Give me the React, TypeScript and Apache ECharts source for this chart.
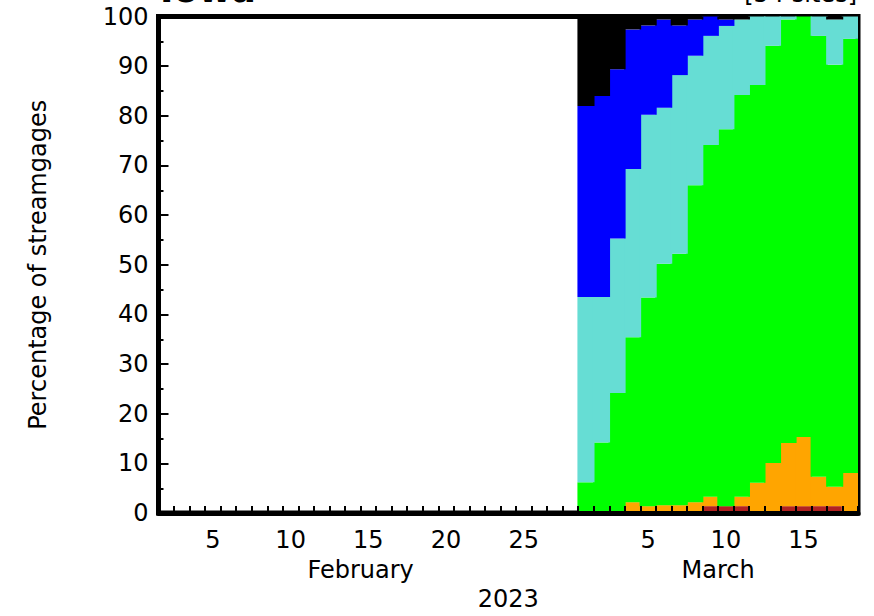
import React, { useEffect, useRef } from "react";
import * as echarts from "echarts";

// Categories: days shown on the x axis (Feb 2 .. Mar 18, 2023)
const febDays = [2, 3, 4, 5, 6, 7, 8, 9, 10, 11, 12, 13, 14, 15, 16, 17, 18, 19, 20, 21, 22, 23, 24, 25, 26, 27, 28];
const marDays = [1, 2, 3, 4, 5, 6, 7, 8, 9, 10, 11, 12, 13, 14, 15, 16, 17, 18];
const febLabelDays = [5, 10, 15, 20, 25];
const marLabelDays = [5, 10, 15];
const monthLabels = [
  { text: "February", startsAt: "Feb 15" },
  { text: "March", startsAt: "Mar 10" },
];
const yearLabel = "2023";
const titleText = "Iowa";
const sitesText = "[54 sites]";
const yAxisName = "Percentage of streamgages";

// Percentage of streamgages per class, March 1..18 (stack order bottom -> top)
const darkRed = [0, 0, 0, 0, 0, 0, 0, 0, 1.4, 1.4, 1.4, 0, 0, 1.4, 1.4, 1.4, 1.4, 0];
const orange = [0, 0, 0, 2.2, 1.4, 1.6, 1.6, 2.2, 1.9, 0, 1.9, 6.1, 10.1, 12.7, 13.9, 5.9, 3.9, 8.1];
const green = [6.2, 14.2, 24.2, 33.2, 42.0, 48.6, 50.6, 63.8, 70.8, 75.9, 80.9, 80.1, 84.0, 85.3, 84.7, 88.8, 85.0, 87.4];
const turquoise = [37.3, 29.3, 31.1, 33.9, 36.8, 31.4, 36.0, 26.1, 22.0, 20.8, 15.2, 13.8, 5.9, 0.6, 0, 3.9, 9.1, 4.5];
const blue = [38.5, 40.5, 34.1, 28.1, 18.0, 17.8, 10.0, 7.3, 3.9, 1.3, 0, 0, 0, 0, 0, 0, 0, 0];
const black = [18.0, 16.0, 10.6, 2.6, 1.8, 0.6, 1.8, 0.6, 0, 0.6, 0.6, 0, 0, 0, 0, 0, 0.6, 0];

const layers = [
  { name: "dark red", values: darkRed, color: "#b22222" },
  { name: "orange", values: orange, color: "#ffa500" },
  { name: "green", values: green, color: "#00ff00" },
  { name: "turquoise", values: turquoise, color: "#66ddd4" },
  { name: "blue", values: blue, color: "#0000ff" },
  { name: "black", values: black, color: "#000000" },
];

const FONT = '"DejaVu Sans", sans-serif';

export default function App() {
  const ref = useRef<HTMLDivElement>(null);

  useEffect(() => {
    if (!ref.current) return;
    const chart = echarts.init(ref.current, undefined, { renderer: "svg" });

    const categories = [
      ...febDays.map((d) => `Feb ${d}`),
      ...marDays.map((d) => `Mar ${d}`),
    ];
    const monthPos: Record<number, string> = {};
    monthLabels.forEach((m) => {
      monthPos[categories.indexOf(m.startsAt)] = m.text;
    });

    const series = layers.map((l) => ({
      name: l.name,
      type: "bar",
      stack: "total",
      xAxisIndex: 0,
      yAxisIndex: 0,
      barWidth: "110%",
      barGap: "-100%",
      barCategoryGap: "0%",
      itemStyle: { color: l.color, borderWidth: 0 },
      emphasis: { disabled: true },
      data: [...febDays.map(() => "-"), ...l.values.map((v) => (v === 0 ? "-" : v))],
    }));

    chart.setOption({
      animation: false,
      backgroundColor: "#ffffff",
      textStyle: { fontFamily: FONT },
      grid: {
        left: 158.5,
        right: 16,
        top: 16.5,
        bottom: 97.5,
        show: true,
        borderColor: "#000",
        borderWidth: 5,
        backgroundColor: "transparent",
      },
      xAxis: [
        {
          type: "category",
          data: categories,
          boundaryGap: true,
          z: 10,
          axisLine: { show: true, lineStyle: { color: "#000", width: 5 } },
          axisTick: { show: true, inside: true, interval: 0, length: 7, lineStyle: { color: "#000", width: 2 } },
          axisLabel: {
            interval: (_i: number, value: string) => {
              const [m, d] = value.split(" ");
              return m === "Feb" ? febLabelDays.includes(+d) : marLabelDays.includes(+d);
            },
            formatter: (value: string) => value.split(" ")[1],
            color: "#000",
            fontSize: 24,
            fontFamily: FONT,
            margin: 15,
          },
          splitLine: { show: false },
        },
        {
          type: "value",
          min: 0,
          max: categories.length,
          interval: 1,
          position: "bottom",
          axisLine: { show: false },
          axisTick: { show: false },
          splitLine: { show: false },
          axisLabel: {
            formatter: (v: number) => monthPos[v] || "",
            color: "#000",
            fontSize: 24,
            fontFamily: FONT,
            margin: 45,
          },
          name: yearLabel,
          nameLocation: "middle",
          nameGap: 71,
          nameTextStyle: { color: "#000", fontSize: 24, fontFamily: FONT },
        },
      ],
      yAxis: {
        type: "value",
        min: 0,
        max: 100,
        interval: 10,
        z: 10,
        axisLine: { show: true, lineStyle: { color: "#000", width: 5 } },
        axisTick: { show: true, inside: true, length: 10, lineStyle: { color: "#000", width: 2 } },
        minorTick: { show: true, splitNumber: 2, length: 5, lineStyle: { color: "#000", width: 2 } },
        splitLine: { show: false },
        axisLabel: { color: "#000", fontSize: 24, fontFamily: FONT, margin: 10 },
        name: yAxisName,
        nameLocation: "middle",
        nameGap: 109,
        nameTextStyle: { color: "#000", fontSize: 24, fontFamily: FONT },
      },
      graphic: [
        {
          type: "text",
          z: 100,
          style: {
            text: titleText,
            x: 160,
            y: -10.5,
            align: "left",
            verticalAlign: "middle",
            fontSize: 36,
            fontWeight: "bold",
            fontFamily: FONT,
            fill: "#000",
          },
        },
        {
          type: "text",
          z: 100,
          style: {
            text: sitesText,
            x: 857,
            y: -6.5,
            align: "right",
            verticalAlign: "middle",
            fontSize: 24,
            fontFamily: FONT,
            fill: "#000",
          },
        },
      ],
      series,
    });

    return () => chart.dispose();
  }, []);

  return (
    <div
      ref={ref}
      style={{ position: "fixed", left: 0, top: 0, width: 874, height: 616 }}
    />
  );
}
